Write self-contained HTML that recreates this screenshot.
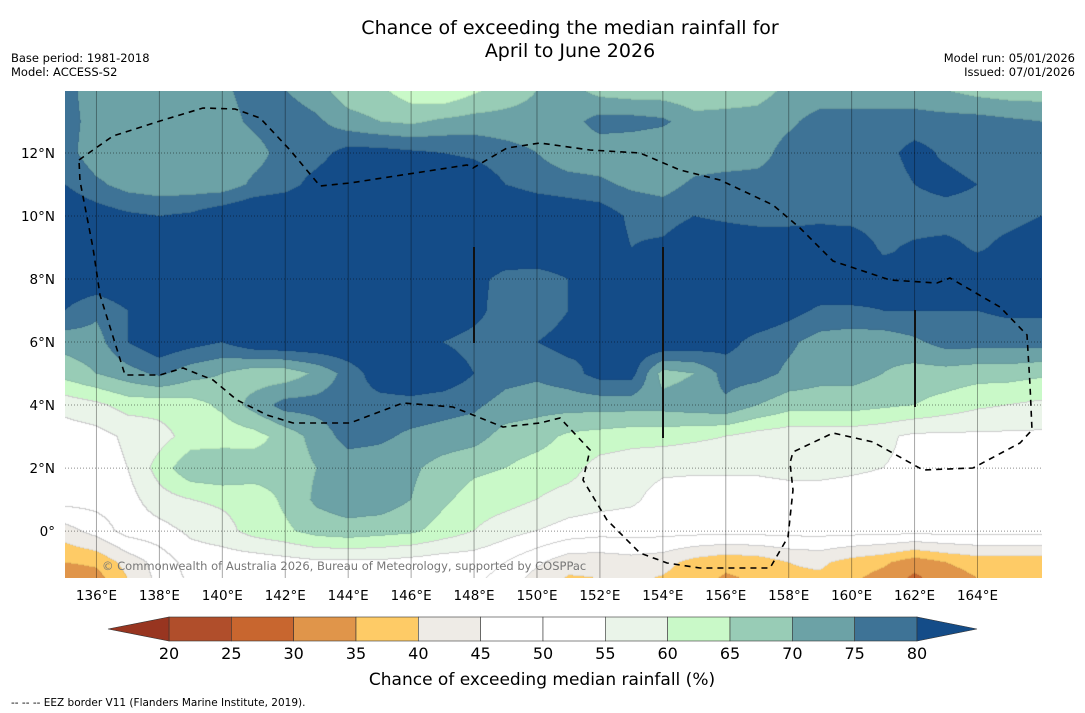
<!DOCTYPE html>
<html><head><meta charset="utf-8">
<style>
body{margin:0;background:#fff;width:1085px;height:713px;overflow:hidden;font-family:"DejaVu Sans","Liberation Sans",sans-serif;}
#wrap{position:relative;width:1085px;height:713px;}
canvas{position:absolute;left:65px;top:91px;}
svg{position:absolute;left:0;top:0;}
</style></head>
<body>
<div id="wrap">
<canvas id="map" width="977" height="487"></canvas>
<svg id="ov" width="1085" height="713" font-family="DejaVu Sans, Liberation Sans, sans-serif">
<text x="570" y="34" font-size="19" text-anchor="middle">Chance of exceeding the median rainfall for</text>
<text x="570" y="57" font-size="19" text-anchor="middle">April to June 2026</text>
<text x="11" y="62" font-size="11.5">Base period: 1981-2018</text>
<text x="11" y="76" font-size="11.5">Model: ACCESS-S2</text>
<text x="1075" y="62" font-size="11.5" text-anchor="end">Model run: 05/01/2026</text>
<text x="1075" y="76" font-size="11.5" text-anchor="end">Issued: 07/01/2026</text>
<g id="grid"></g>
<path id="eez" d="" fill="none" stroke="#000" stroke-width="1.6" stroke-dasharray="6,5"/>
<line x1="474" y1="247" x2="474" y2="343" stroke="#111" stroke-width="2"/>
<line x1="663" y1="247" x2="663" y2="438" stroke="#111" stroke-width="2"/>
<line x1="915" y1="310" x2="915" y2="407" stroke="#111" stroke-width="2"/>
<text x="102" y="570" font-size="11.5" fill="#777">© Commonwealth of Australia 2026, Bureau of Meteorology, supported by COSPPac</text>
<g id="ticks"></g>
<g id="cbar"></g>
<text x="542" y="685" font-size="17" text-anchor="middle">Chance of exceeding median rainfall (%)</text>
<text x="11" y="706" font-size="10.5">--  --  -- EEZ border V11 (Flanders Marine Institute, 2019).</text>
</svg>
</div>
<script>
const lons=[135,136,137,138,139,140,141,142,143,144,145,146,147,148,149,150,151,152,153,154,155,156,157,158,159,160,161,162,163,164,165,166];
const lats=[14,13,12,11,10,9,8,7,6,5,4,3,2,1,0,-1,-2];
const r14=[77,72,72,72,72,74,77,75,72,67,66,62,60,64,67,70,72,68,67,67,66,67,68,71,72,72,72,72,70,68,67,67];
const r13=[77,73,72,72,72,73,76,78,76,72,70,69,71,72,72,72,73,77,77,76,72,72,72,74,77,77,77,77,77,77,76,75];
const r12=[77,72,72,72,71,72,73,77,78,82,82,81,80,79,77,75,72,72,71,70,72,72,73,77,77,77,78,82,79,77,77,77];
const r11=[80,76,73,72,72,72,76,78,82,85,85,85,85,84,80,78,77,76,74,73,76,77,77,77,76,77,77,80,82,80,77,77];
const r10=[85,83,81,80,81,84,86,86,86,86,86,86,86,86,86,85,84,83,79,78,80,79,78,78,79,78,77,77,77,77,78,80];
const r9=[85,80,84,85,86,86,86,86,86,86,86,86,86,86,85,84,84,83,80,81,84,84,84,84,83,84,79,81,82,79,82,84];
const r8=[84,84,85,85,85,85,85,85,85,85,85,85,85,82,78,78,80,83,85,85,85,85,85,85,85,85,83,80,84,85,85,85];
const r7=[80,76,80,83,85,85,85,85,85,85,85,85,85,82,77,77,80,83,85,85,85,85,85,82,79,79,80,80,80,80,81,81];
const r6=[72,73,80,84,82,80,84,85,85,85,85,85,80,78,77,80,82,80,84,85,84,82,78,76,73,72,72,74,77,77,77,77];
const r5=[67,70,73,76,72,70,67,67,71,77,83,85,84,80,77,76,78,82,82,68,70,77,77,74,72,72,70,68,68,67,67,66];
const r4=[57,59,62,62,63,66,72,77,77,78,78,78,77,76,73,72,72,72,72,72,73,74,70,67,67,67,66,65,63,61,60,59];
const r3=[52,53,56,58,62,62,63,67,72,77,76,74,73,72,68,67,64,63,62,62,61,60,58,57,57,57,56,54,54,54,54,54];
const r2=[52,52,55,62,69,70,68,67,70,72,72,71,68,66,65,63,62,58,57,56,56,56,56,57,57,56,55,54,53,53,53,53];
const r1=[52,52,53,58,60,61,62,66,71,73,73,70,66,63,62,60,58,57,56,53,52,52,52,52,52,52,52,52,52,52,52,52];
const r0=[43,47,52,53,56,58,62,64,67,68,67,66,63,60,57,55,53,52,52,52,52,52,52,52,52,52,52,52,52,52,52,52];
const rm1=[35,36,42,47,52,52,52,53,54,54,54,53,52,52,50,46,42,42,43,42,38,36,37,40,41,38,36,32,35,37,37,37];
const rm2=[28,30,38,46,50,52,52,52,52,52,52,52,52,50,47,40,37,38,39,37,35,33,34,38,37,34,30,26,30,33,33,33];
const values=[r14,r13,r12,r11,r10,r9,r8,r7,r6,r5,r4,r3,r2,r1,r0,rm1,rm2];
const levelBounds=[20,25,30,35,40,45,50,55,60,65,70,75,80];
const levelColors=["#983520","#b04e2b","#c8662f","#e0954a","#fecb66","#eeebe6","#ffffff","#ffffff","#eaf4e9","#c9f9c8","#98ccb6","#6ca2a6","#3e7396","#144c88"];
const tickLons=[136,138,140,142,144,146,148,150,152,154,156,158,160,162,164];
const tickLats=[12,10,8,6,4,2,0];

const X0=65,Y0=91,W=977,H=487;
const lonMin=135,lonMax=166.05,latMax=13.97,latMin=-1.49;
const xOf=lon=>X0+(lon-lonMin)/(lonMax-lonMin)*W;
const yOf=lat=>Y0+(latMax-lat)/(latMax-latMin)*H;
function val(lon,lat){
  let fi=(lon-lons[0]);fi=Math.max(0,Math.min(lons.length-1.001,fi));
  let fj=(lats[0]-lat);fj=Math.max(0,Math.min(lats.length-1.001,fj));
  const i=Math.floor(fi),j=Math.floor(fj),a=fi-i,b=fj-j;
  const v=values;
  return v[j][i]*(1-a)*(1-b)+v[j][i+1]*a*(1-b)+v[j+1][i]*(1-a)*b+v[j+1][i+1]*a*b;
}
function lvl(v){let k=0;while(k<levelBounds.length&&v>=levelBounds[k])k++;return k;}
function hex(c){return [parseInt(c.slice(1,3),16),parseInt(c.slice(3,5),16),parseInt(c.slice(5,7),16)];}
const rgb=levelColors.map(hex);
const cv=document.getElementById('map'),ctx=cv.getContext('2d');
const img=ctx.createImageData(W,H);
const L=new Uint8Array(W*H);
for(let y=0;y<H;y++)for(let x=0;x<W;x++){
  const lon=lonMin+(x+0.5)/W*(lonMax-lonMin),lat=latMax-(y+0.5)/H*(latMax-latMin);
  L[y*W+x]=lvl(val(lon,lat));
}
for(let y=0;y<H;y++)for(let x=0;x<W;x++){
  const k=L[y*W+x];let c=rgb[k];
  const r=x<W-1?L[y*W+x+1]:k,d=y<H-1?L[(y+1)*W+x]:k;
  if((r!==k||d!==k)){const m=Math.min(k,r,d);if(m>=5&&m<=8)c=[205,205,205];else c=c.map(q=>Math.round(q*0.94));}
  const p=(y*W+x)*4;img.data[p]=c[0];img.data[p+1]=c[1];img.data[p+2]=c[2];img.data[p+3]=255;
}
ctx.putImageData(img,0,0);

const NS='http://www.w3.org/2000/svg';
const grid=document.getElementById('grid'),ticks=document.getElementById('ticks'),cbar=document.getElementById('cbar');
tickLons.forEach(lon=>{
  const x=xOf(lon);
  const l=document.createElementNS(NS,'line');
  l.setAttribute('x1',x);l.setAttribute('x2',x);l.setAttribute('y1',Y0);l.setAttribute('y2',Y0+H);
  l.setAttribute('stroke','rgba(0,0,0,0.35)');l.setAttribute('stroke-width','1');
  
  
  grid.appendChild(l);
  const t=document.createElementNS(NS,'text');
  t.setAttribute('x',x);t.setAttribute('y',600);t.setAttribute('font-size','13.5');t.setAttribute('text-anchor','middle');
  t.textContent=lon+'°E';
  
  
  ticks.appendChild(t);
});
tickLats.forEach(lat=>{
  const y=yOf(lat);
  const l=document.createElementNS(NS,'line');
  l.setAttribute('x1',X0);l.setAttribute('x2',X0+W);l.setAttribute('y1',y);l.setAttribute('y2',y);
  l.setAttribute('stroke','rgba(0,0,0,0.45)');l.setAttribute('stroke-width','1');l.setAttribute('stroke-dasharray','1,2');
  
  
  grid.appendChild(l);
  const t=document.createElementNS(NS,'text');
  t.setAttribute('x',55);t.setAttribute('y',y+5);t.setAttribute('font-size','13.5');t.setAttribute('text-anchor','end');
  t.textContent=lat===0?'0°':lat+'°N';
  
  
  ticks.appendChild(t);
});
const cbL=169,cbR=917,cbT=617,cbB=641,step=(cbR-cbL)/(levelBounds.length-1);
for(let k=1;k<levelBounds.length;k++){
  const r=document.createElementNS(NS,'rect');
  r.setAttribute('x',cbL+(k-1)*step);r.setAttribute('y',cbT);r.setAttribute('width',step);r.setAttribute('height',cbB-cbT);
  r.setAttribute('fill',levelColors[k]);r.setAttribute('stroke','#333');r.setAttribute('stroke-width','0.6');
  
  
  cbar.appendChild(r);
}
const lt=document.createElementNS(NS,'polygon');
lt.setAttribute('points',`${cbL},${cbT} ${cbL},${cbB} 108,${(cbT+cbB)/2}`);lt.setAttribute('fill',levelColors[0]);lt.setAttribute('stroke','#333');lt.setAttribute('stroke-width','0.6');


cbar.appendChild(lt);
const rt=document.createElementNS(NS,'polygon');
rt.setAttribute('points',`${cbR},${cbT} ${cbR},${cbB} 977,${(cbT+cbB)/2}`);rt.setAttribute('fill',levelColors[13]);rt.setAttribute('stroke','#333');rt.setAttribute('stroke-width','0.6');


cbar.appendChild(rt);
levelBounds.forEach((b,k)=>{
  const t=document.createElementNS(NS,'text');
  t.setAttribute('x',cbL+k*step);t.setAttribute('y',659);t.setAttribute('font-size','16');t.setAttribute('text-anchor','middle');
  t.textContent=b;
  
  
  cbar.appendChild(t);
});
const eezPts=[[79,160],[93,150],[113,136],[160,121],[203,108],[235,109],[260,118],[290,150],[320,186],[350,183],[467,165],[473,168],[507,148],[540,143],[590,150],[640,153],[680,170],[720,180],[773,205],[800,228],[833,261],[890,280],[937,283],[950,278],[1000,307],[1027,335],[1030,385],[1032,430],[1020,443],[973,468],[923,470],[873,442],[833,433],[793,452],[790,463],[793,490],[788,537],[770,568],[700,568],[667,563],[640,553],[607,520],[583,480],[590,450],[560,418],[540,423],[503,427],[453,407],[403,403],[350,423],[293,423],[267,415],[237,400],[213,380],[183,368],[160,375],[125,375],[100,295],[93,248],[80,181],[79,160]];
document.getElementById('eez').setAttribute('d','M'+eezPts.map(p=>p.join(',')).join(' L'));
</script>
</body></html>
